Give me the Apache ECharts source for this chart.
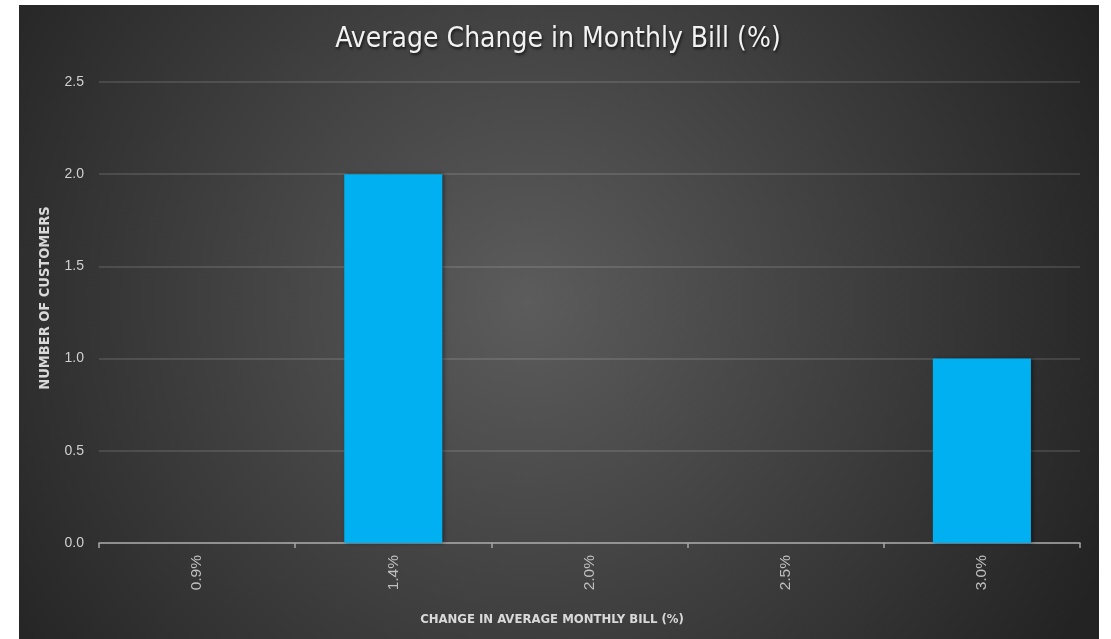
<!DOCTYPE html>
<html>
<head>
<meta charset="utf-8">
<script src="https://cdn.jsdelivr.net/npm/echarts@6/dist/echarts.min.js"></script>
<style>
html,body{margin:0;padding:0;background:#ffffff;}
#chart{width:1111px;height:639px;}
</style>
</head>
<body>
<div id="chart"></div>
<script>
const categories = ['0.9%', '1.4%', '2.0%', '2.5%', '3.0%'];
const customerCounts = [0, 2, 0, 0, 1];
const yTicks = { min: 0, max: 2.5, interval: 0.5 };
const titleText = 'Average Change in Monthly Bill (%)';
const xAxisTitle = 'CHANGE IN AVERAGE MONTHLY BILL (%)';
const yAxisTitle = 'NUMBER OF CUSTOMERS';

const chart = echarts.init(document.getElementById('chart'), null, { renderer: 'canvas' });
chart.setOption({
  animation: false,
  backgroundColor: '#ffffff',
  title: {
    text: titleText,
    left: 553,
    textAlign: 'center',
    top: 21,
    textStyle: {
      color: '#f2f2f2',
      fontFamily: '"DejaVu Sans Condensed", "DejaVu Sans", sans-serif',
      fontWeight: 'normal',
      fontSize: 28,
      textShadowColor: 'rgba(0,0,0,0.7)',
      textShadowBlur: 3,
      textShadowOffsetX: 1,
      textShadowOffsetY: 2
    }
  },
  graphic: [
    {
      type: 'rect', z: -100, silent: true,
      shape: { x: 19, y: 5, width: 1080, height: 634 },
      style: {
        fill: {
          type: 'radial', x: 0.47, y: 0.47, r: 1.0,
          colorStops: [
            { offset: 0, color: '#5c5c5c' },
            { offset: 1, color: '#232323' }
          ]
        }
      }
    },
    {
      type: 'text', z: 10, silent: true,
      x: 552, y: 620,
      style: {
        text: xAxisTitle, fill: '#d9d9d9',
        font: 'bold 13px "DejaVu Sans Condensed", Roboto, sans-serif',
        textAlign: 'center', textVerticalAlign: 'middle'
      }
    },
    {
      type: 'text', z: 10, silent: true,
      x: 45, y: 298, rotation: Math.PI / 2,
      style: {
        text: yAxisTitle, fill: '#d9d9d9',
        font: 'bold 14.5px "DejaVu Sans Condensed", Roboto, sans-serif',
        textAlign: 'center', textVerticalAlign: 'middle'
      }
    }
  ],
  grid: { left: 99, right: 31, top: 82, bottom: 96, containLabel: false },
  xAxis: {
    type: 'category',
    data: categories,
    boundaryGap: true,
    axisLine: { show: true, lineStyle: { color: '#a6a6a6', width: 1.5 } },
    axisTick: { show: true, length: 5, alignWithLabel: false, lineStyle: { color: '#a6a6a6', width: 1.5 } },
    axisLabel: {
      rotate: 90, margin: 12, color: '#bfbfbf', fontSize: 15.5,
      fontFamily: '"Liberation Sans", Arial, sans-serif'
    },
    splitLine: { show: false }
  },
  yAxis: {
    type: 'value',
    min: yTicks.min, max: yTicks.max, interval: yTicks.interval,
    axisLine: { show: false },
    axisTick: { show: false },
    axisLabel: {
      margin: 15, color: '#d0d0d0', fontSize: 14,
      fontFamily: '"Liberation Sans", Arial, sans-serif',
      formatter: v => v.toFixed(1)
    },
    splitLine: { show: true, lineStyle: { color: 'rgba(255,255,255,0.16)', width: 1.5 } }
  },
  series: [{
    type: 'bar',
    data: customerCounts,
    barCategoryGap: '50%',
    itemStyle: {
      color: '#00b0f0',
      shadowColor: 'rgba(0,0,0,0.45)',
      shadowBlur: 4,
      shadowOffsetX: 2,
      shadowOffsetY: 0
    }
  }]
});
</script>
</body>
</html>
